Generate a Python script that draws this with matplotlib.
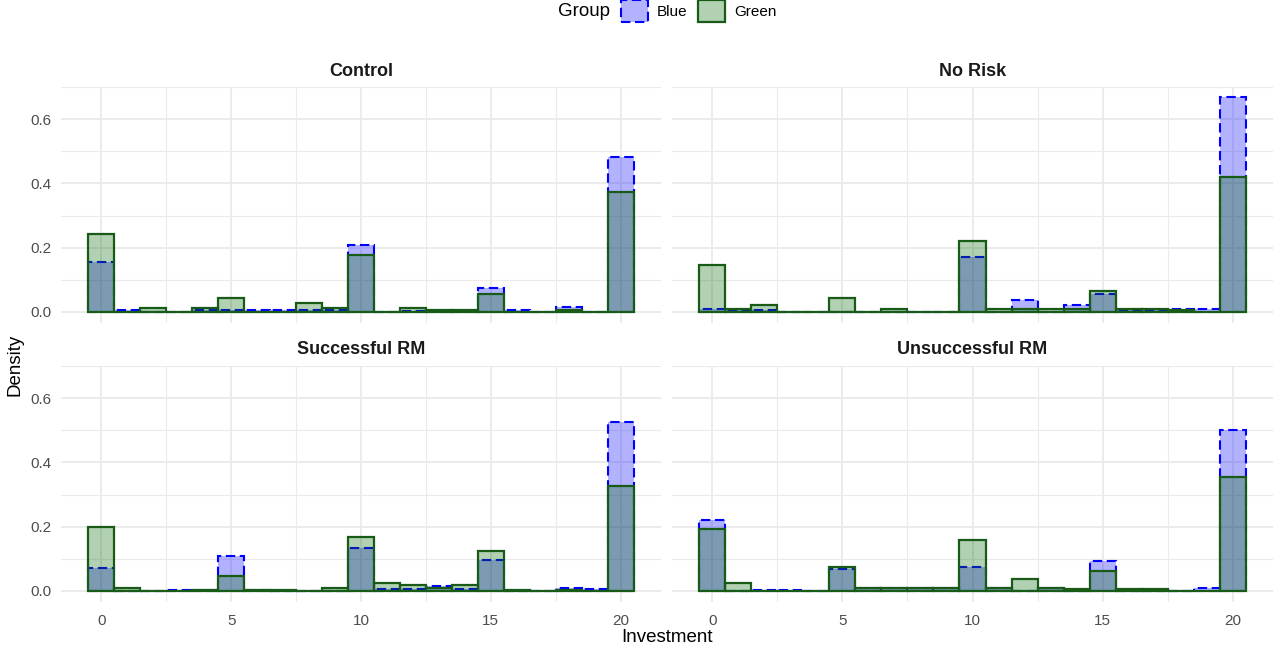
import matplotlib.pyplot as plt
from matplotlib.patches import Patch
from matplotlib.ticker import MultipleLocator

plt.rcParams['font.family'] = ['Liberation Sans', 'DejaVu Sans']

# investment bins (binwidth 1, centred on integers)
investment = list(range(21))

panels = ['Control', 'No Risk', 'Successful RM', 'Unsuccessful RM']

# densities, one value per bin
control_blue = [0.156, 0.005, 0, 0, 0.005, 0.005, 0.005, 0.005, 0.005, 0.005, 0.208,
                0, 0.003, 0.003, 0.003, 0.073, 0.005, 0, 0.015, 0, 0.483]
control_green = [0.242, 0, 0.013, 0, 0.013, 0.042, 0, 0, 0.029, 0.012, 0.177,
                 0, 0.013, 0.007, 0.007, 0.055, 0, 0, 0.005, 0, 0.374]
norisk_blue = [0.01, 0.005, 0.005, 0, 0, 0, 0, 0, 0, 0, 0.171,
               0, 0.036, 0, 0.021, 0.057, 0.005, 0.005, 0.01, 0.01, 0.668]
norisk_green = [0.147, 0.01, 0.021, 0, 0, 0.042, 0, 0.01, 0, 0, 0.22,
                0.01, 0.01, 0.01, 0.01, 0.064, 0.01, 0.01, 0.005, 0, 0.42]
success_blue = [0.072, 0, 0, 0.004, 0.003, 0.109, 0.002, 0, 0, 0, 0.134,
                0.007, 0.007, 0.016, 0.005, 0.096, 0, 0, 0.01, 0.006, 0.525]
success_green = [0.198, 0.01, 0, 0, 0.004, 0.047, 0.004, 0.004, 0, 0.01, 0.168,
                 0.025, 0.018, 0.01, 0.018, 0.124, 0.004, 0, 0.004, 0, 0.328]
unsuccess_blue = [0.222, 0, 0.003, 0.003, 0, 0.067, 0.008, 0.008, 0.008, 0.008, 0.073,
                  0.008, 0, 0.008, 0, 0.093, 0, 0, 0, 0.01, 0.5]
unsuccess_green = [0.192, 0.025, 0, 0, 0, 0.075, 0.009, 0.009, 0.009, 0.009, 0.16,
                   0.009, 0.036, 0.009, 0.005, 0.061, 0.005, 0.005, 0, 0, 0.356]

blue_data = [control_blue, norisk_blue, success_blue, unsuccess_blue]
green_data = [control_green, norisk_green, success_green, unsuccess_green]

W, H = 1279, 655
fig = plt.figure(figsize=(W / 100, H / 100), dpi=100)

# panel boxes in pixels: left, top, right, bottom
boxes = [(61, 86.5, 661, 322.7), (672, 86.5, 1273, 322.7),
         (61, 365.5, 661, 601.7), (672, 365.5, 1273, 601.7)]

grid_col = '#EBEBEB'
blue_dash = (0, (4.5, 2.2))
green_edge = '#175B17'
for i, (l, t, r, b) in enumerate(boxes):
    ax = fig.add_axes([l / W, 1 - b / H, (r - l) / W, (b - t) / H])
    ax.bar(investment, blue_data[i], width=1, facecolor=(0, 0, 1, 0.3),
           edgecolor='#0000FF', linewidth=1.5, linestyle=blue_dash, zorder=3)
    ax.bar(investment, green_data[i], width=1, facecolor=(0, 0.392, 0, 0.3),
           edgecolor=green_edge, linewidth=1.6, zorder=4)
    ax.set_xlim(-1.55, 21.55)
    ax.set_ylim(-0.0334, 0.7014)
    ax.xaxis.set_major_locator(MultipleLocator(5))
    ax.xaxis.set_minor_locator(MultipleLocator(2.5))
    ax.yaxis.set_major_locator(MultipleLocator(0.2))
    ax.yaxis.set_minor_locator(MultipleLocator(0.1))
    ax.grid(which='major', color=grid_col, linewidth=1.4, zorder=0)
    ax.grid(which='minor', color=grid_col, linewidth=0.8, zorder=0)
    ax.set_axisbelow(True)
    for s in ax.spines.values():
        s.set_visible(False)
    ax.tick_params(which='both', length=0, labelsize=11, labelcolor='#4D4D4D')
    ax.tick_params(axis='x', pad=8.5)
    ax.tick_params(axis='y', pad=7)
    ax.set_yticks([0, 0.2, 0.4, 0.6])
    ax.set_yticklabels(['0.0', '0.2', '0.4', '0.6'])
    if i < 2:
        ax.tick_params(axis='x', labelbottom=False)
    if i % 2 == 1:
        ax.tick_params(axis='y', labelleft=False)
    ax.text(0.5, 1 + 15.5 / (b - t), panels[i], transform=ax.transAxes,
            ha='center', va='center', fontsize=13, fontweight='bold', color='#1A1A1A')

fig.text(667 / W, 1 - 638 / H, 'Investment', ha='center', va='center', fontsize=13.5)
fig.text(15 / W, 1 - 365 / H, 'Density', ha='center', va='center', rotation=90, fontsize=13.5)

# legend across the top
fig.text(558 / W, 1 - 12 / H, 'Group', ha='left', va='center', fontsize=13.5)
handles = [Patch(facecolor=(0, 0, 1, 0.3), edgecolor='#0000FF', linewidth=1.5, linestyle=blue_dash),
           Patch(facecolor=(0, 0.392, 0, 0.3), edgecolor=green_edge, linewidth=1.6)]
fig.legend(handles, ['Blue', 'Green'], ncol=2, loc='center left',
           bbox_to_anchor=(621 / W, 1 - 11 / H), frameon=False, fontsize=11,
           handlelength=1.75, handleheight=1.75, handletextpad=0.6,
           columnspacing=0.7, borderpad=0, borderaxespad=0)

fig.savefig('out.png', dpi=100)
